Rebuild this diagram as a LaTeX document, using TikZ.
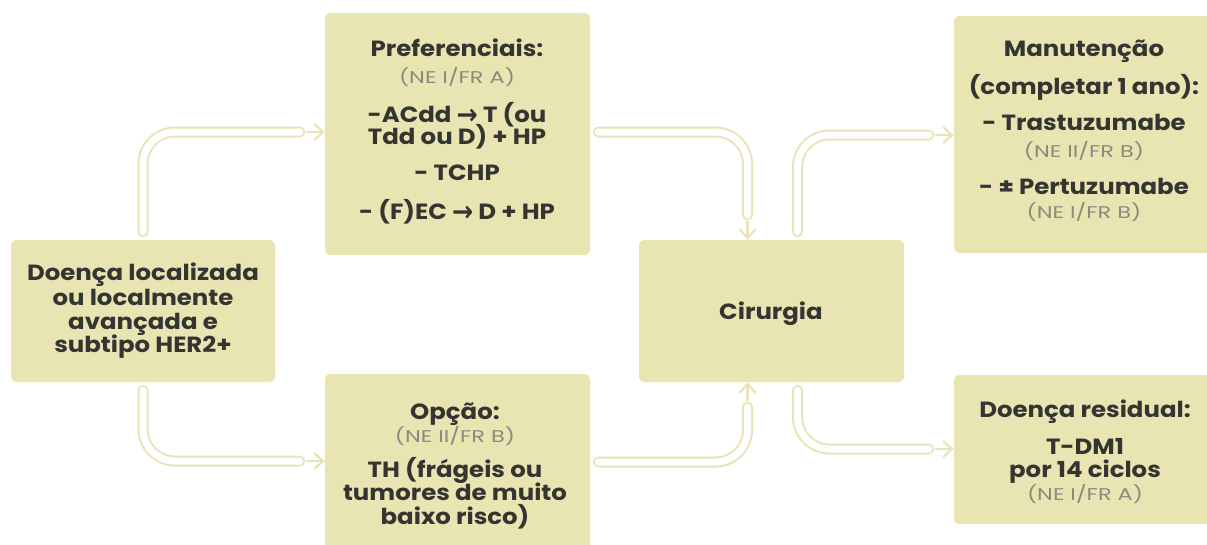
\documentclass[tikz,border=0pt]{standalone}
\usepackage{graphicx}
\usepackage{fontspec}
\setmainfont{Poppins}
\newfontfamily\bfont{Poppins}[FakeStretch=1.11]
\newfontfamily\sfont{Poppins}[FakeStretch=1.32]
\newfontfamily\arrfont{DejaVu Sans}
\usetikzlibrary{arrows.meta}
\definecolor{boxC}{RGB}{233,229,178}
\definecolor{tubeC}{RGB}{232,228,182}
\definecolor{txtC}{RGB}{52,52,50}
\definecolor{smC}{RGB}{140,138,125}
\newcommand{\rarr}{{\arrfont\bfseries\raisebox{-2.4pt}{\scalebox{1.15}[1.3]{→}}}}
\begin{document}
\begin{tikzpicture}[x=1pt,y=-1pt,
  box/.style={fill=boxC, rounded corners=5pt, inner sep=0pt},
  bt/.style={font=\fontsize{22}{26}\bfont\bfseries, text=txtC, anchor=base, inner sep=0pt},
  st/.style={font=\fontsize{17}{20}\sfont, text=smC, anchor=base, inner sep=0pt},
  tubeout/.style={draw=tubeC, line width=11pt, line cap=round, rounded corners=32pt},
  tubein/.style={draw=white, line width=7pt, line cap=round, rounded corners=32pt},
  tip/.style={draw=tubeC, line width=2.2pt, -{Straight Barb[length=9pt,width=16pt]}}]
\useasboundingbox (0,0) rectangle (1207,544);
\clip (0,0) rectangle (1207,544);
% boxes
\node[box, minimum width=264pt, minimum height=142pt] (left) at (143,311) {};
\node[box, minimum width=265pt, minimum height=242pt] (pref) at (457.5,134) {};
\node[box, minimum width=265pt, minimum height=200pt] (opc) at (457.5,474) {};
\node[box, minimum width=265pt, minimum height=142pt] (cir) at (771.5,311) {};
\node[box, minimum width=265pt, minimum height=237pt] (man) at (1086.5,134.5) {};
\node[box, minimum width=265pt, minimum height=149pt] (res) at (1086.5,449.5) {};
% connectors
\foreach \st in {tubeout,tubein}{
  \draw[\st] ([yshift=8pt]left.north) |- ([xshift=-25pt,yshift=2pt]pref.west);
  \draw[\st] ([yshift=-8pt]left.south) |- ([xshift=-25pt,yshift=13pt]opc.west);
  \draw[\st] ([xshift=8pt,yshift=2pt]pref.east) -| ([xshift=-24pt,yshift=25pt]cir.north);
  \draw[\st] ([xshift=8pt,yshift=12pt]opc.east) -| ([xshift=-24pt,yshift=-25pt]cir.south);
  \draw[\st] ([xshift=26pt,yshift=8pt]cir.north) |- ([xshift=-25pt,yshift=-0.5pt]man.west);
  \draw[\st] ([xshift=26pt,yshift=-8pt]cir.south) |- ([xshift=-25pt,yshift=0.5pt]res.west);
}
\draw[tip] ([xshift=-19pt,yshift=2pt]pref.west) -- ([yshift=2pt]pref.west);
\draw[tip] ([xshift=-19pt,yshift=13pt]opc.west) -- ([yshift=13pt]opc.west);
\draw[tip] ([xshift=-24pt,yshift=19pt]cir.north) -- ([xshift=-24pt]cir.north);
\draw[tip] ([xshift=-24pt,yshift=-19pt]cir.south) -- ([xshift=-24pt]cir.south);
\draw[tip] ([xshift=-19pt,yshift=-0.5pt]man.west) -- ([yshift=-0.5pt]man.west);
\draw[tip] ([xshift=-19pt,yshift=0.5pt]res.west) -- ([yshift=0.5pt]res.west);
% texts
\node[bt] (l1) at (143,280) {Doença localizada};
\node[bt] (l2) at (143,305) {ou localmente};
\node[bt] (l3) at (143,329) {avançada e};
\node[bt] (l4) at (143,352) {subtipo HER2+};
\node[bt] (p1) at (457,56) {Preferenciais:};
\node[st] (p2) at (457,83) {(NE I/FR A)};
\node[bt] (p3) at (457,122) {-ACdd \rarr\ T (ou};
\node[bt] (p4) at (457,144) {Tdd ou D) + HP};
\node[bt] (p5) at (457,180) {- TCHP};
\node[bt] (p6) at (457,219) {- (F)EC \rarr\ D + HP};
\node[bt] (o1) at (455,419) {Opção:};
\node[st] (o2) at (455,442) {(NE II/FR B)};
\node[bt] (o3) at (455,477) {TH (frágeis ou};
\node[bt] (o4) at (455,500) {tumores de muito};
\node[bt] (o5) at (455,524) {baixo risco)};
\node[bt] (c1) at (771,319) {Cirurgia};
\node[bt] (m1) at (1084,56) {Manutenção};
\node[bt] (m2) at (1084,94) {(completar 1 ano):};
\node[bt] (m3) at (1084,130) {- Trastuzumabe};
\node[st] (m4) at (1084,157) {(NE II/FR B)};
\node[bt] (m5) at (1084,194) {- ± Pertuzumabe};
\node[st] (m6) at (1084,218) {(NE I/FR B)};
\node[bt] (r1) at (1085,417) {Doença residual:};
\node[bt] (r2) at (1085,454) {T-DM1};
\node[bt] (r3) at (1085,477) {por 14 ciclos};
\node[st] (r4) at (1085,500) {(NE I/FR A)};
\end{tikzpicture}
\end{document}
